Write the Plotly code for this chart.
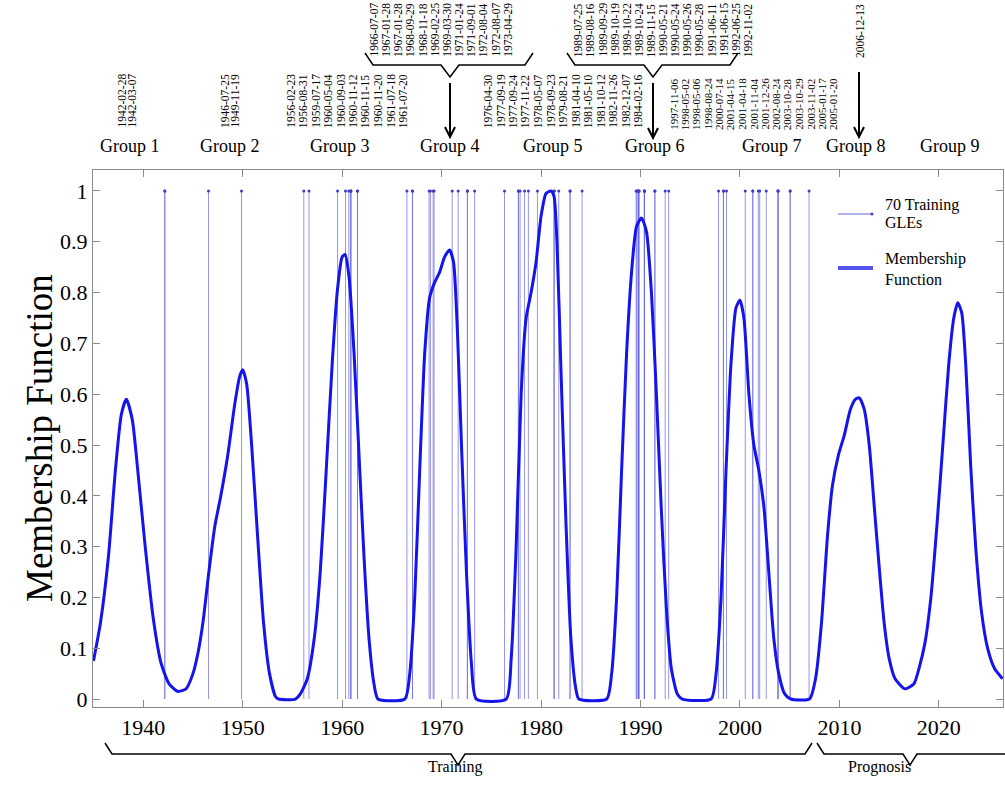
import plotly.graph_objects as go
from datetime import date

# ---------------- data ----------------
group_names = ["Group 1", "Group 2", "Group 3", "Group 4", "Group 5",
               "Group 6", "Group 7", "Group 8", "Group 9"]

gle_group1 = ["1942-02-28", "1942-03-07"]
gle_group2 = ["1946-07-25", "1949-11-19"]
gle_group3 = ["1956-02-23", "1956-08-31", "1959-07-17", "1960-05-04", "1960-09-03",
              "1960-11-12", "1960-11-15", "1960-11-20", "1961-07-18", "1961-07-20"]
gle_group4 = ["1966-07-07", "1967-01-28", "1967-01-28", "1968-09-29", "1968-11-18",
              "1969-02-25", "1969-03-30", "1971-01-24", "1971-09-01", "1972-08-04",
              "1972-08-07", "1973-04-29"]
gle_group5 = ["1976-04-30", "1977-09-19", "1977-09-24", "1977-11-22", "1978-05-07",
              "1978-09-23", "1979-08-21", "1981-04-10", "1981-05-10", "1981-10-12",
              "1982-11-26", "1982-12-07", "1984-02-16"]
gle_group6 = ["1989-07-25", "1989-08-16", "1989-09-29", "1989-10-19", "1989-10-22",
              "1989-10-24", "1989-11-15", "1990-05-21", "1990-05-24", "1990-05-26",
              "1990-05-28", "1991-06-11", "1991-06-15", "1992-06-25", "1992-11-02"]
gle_group7 = ["1997-11-06", "1998-05-02", "1998-05-06", "1998-08-24", "2000-07-14",
              "2001-04-15", "2001-04-18", "2001-11-04", "2001-12-26", "2002-08-24",
              "2003-10-28", "2003-10-29", "2003-11-02", "2005-01-17", "2005-01-20"]
gle_group8 = ["2006-12-13"]

mf_year = [1935.0, 1935.7, 1936.5, 1937.2, 1937.8, 1938.3, 1938.9, 1939.5, 1940.2, 1941.0,
           1941.8, 1942.6, 1943.5, 1944.3, 1945.0,
           1945.5, 1946.0, 1946.6, 1947.2, 1947.8, 1948.5, 1949.2, 1949.7, 1950.0, 1950.4,
           1950.9, 1951.5, 1952.1, 1952.7, 1953.3, 1953.6, 1955.3,
           1955.8, 1956.5, 1957.2, 1957.8, 1958.4, 1959.0, 1959.5, 1960.0, 1960.3, 1960.7,
           1961.2, 1961.7, 1962.2, 1962.7, 1963.2, 1963.6, 1966.3,
           1966.8, 1967.3, 1967.8, 1968.3, 1968.8, 1969.3, 1969.8, 1970.3, 1970.8, 1971.2,
           1971.6, 1972.0, 1972.5, 1973.0, 1973.5, 1976.5,
           1977.0, 1977.5, 1978.0, 1978.5, 1979.0, 1979.5, 1980.0, 1980.5, 1981.0, 1981.3,
           1981.6, 1982.0, 1982.5, 1983.0, 1983.5, 1983.8, 1986.6,
           1987.1, 1987.6, 1988.1, 1988.6, 1989.1, 1989.6, 1990.1, 1990.6, 1991.1, 1991.6,
           1992.1, 1992.6, 1993.1, 1993.7, 1994.2, 1997.1,
           1997.6, 1998.1, 1998.6, 1999.1, 1999.6, 2000.0, 2000.4, 2000.9, 2001.4, 2001.9,
           2002.4, 2002.9, 2003.4, 2003.9, 2004.5, 2005.1, 2007.0,
           2007.6, 2008.2, 2008.8, 2009.3, 2009.9, 2010.5, 2011.1, 2011.6, 2012.0, 2012.5,
           2013.0, 2013.5, 2014.0, 2014.5, 2015.0, 2015.6, 2016.6, 2017.5,
           2018.0, 2018.6, 2019.2, 2019.8, 2020.4, 2021.0, 2021.5, 2021.9, 2022.3, 2022.7,
           2023.2, 2023.7, 2024.3, 2024.9, 2025.6, 2026.4]
mf_value = [0.075, 0.15, 0.28, 0.45, 0.56, 0.59, 0.55, 0.44, 0.30, 0.16,
            0.07, 0.03, 0.015, 0.02, 0.05,
            0.09, 0.15, 0.25, 0.34, 0.40, 0.48, 0.58, 0.635, 0.648, 0.62,
            0.50, 0.32, 0.15, 0.05, 0.005, 0.0, 0.0,
            0.01, 0.04, 0.12, 0.25, 0.45, 0.66, 0.80, 0.87, 0.875, 0.83,
            0.68, 0.48, 0.28, 0.12, 0.03, 0.0, 0.0,
            0.05, 0.20, 0.45, 0.68, 0.79, 0.82, 0.84, 0.87, 0.884, 0.86,
            0.72, 0.50, 0.25, 0.07, 0.0, 0.0,
            0.08, 0.30, 0.60, 0.75, 0.80, 0.86, 0.95, 0.995, 1.0, 0.99,
            0.90, 0.65, 0.35, 0.12, 0.02, 0.0, 0.0,
            0.05, 0.20, 0.45, 0.68, 0.84, 0.93, 0.947, 0.92, 0.80, 0.60,
            0.37, 0.18, 0.06, 0.01, 0.0, 0.0,
            0.05, 0.20, 0.45, 0.66, 0.77, 0.785, 0.75, 0.60, 0.50, 0.45,
            0.38, 0.25, 0.12, 0.05, 0.01, 0.0, 0.0,
            0.04, 0.15, 0.32, 0.42, 0.48, 0.52, 0.57, 0.59, 0.593, 0.57,
            0.50, 0.38, 0.26, 0.15, 0.08, 0.04, 0.02, 0.03,
            0.06, 0.11, 0.20, 0.34, 0.50, 0.66, 0.75, 0.78, 0.76, 0.66,
            0.46, 0.30, 0.17, 0.10, 0.06, 0.04]

x_tick_vals = [1940, 1950, 1960, 1970, 1980, 1990, 2000, 2010, 2020]
x_tick_text = ["1940", "1950", "1960", "1970", "1980", "1990", "2000", "2010", "2020"]
y_tick_vals = [0, 0.1, 0.2, 0.3, 0.4, 0.5, 0.6, 0.7, 0.8, 0.9, 1]
y_tick_text = ["0", "0.1", "0.2", "0.3", "0.4", "0.5", "0.6", "0.7", "0.8", "0.9", "1"]

# ---------------- helpers ----------------
W, H = 1005, 792
L, R, T, B = 93, 1003, 170, 707
SERIF = "Liberation Serif, Times New Roman, serif"


def dec_year(s):
    d = date.fromisoformat(s)
    start = date(d.year, 1, 1)
    n = (date(d.year + 1, 1, 1) - start).days
    return d.year + ((d - start).days + 0.5) / n


def px(xp):
    return (xp - L) / (R - L)


def py(yp):
    return (B - yp) / (B - T)


all_dates = (gle_group1 + gle_group2 + gle_group3 + gle_group4 + gle_group5 +
             gle_group6 + gle_group7 + gle_group8)

fig = go.Figure()

xs, ys = [], []
for s in all_dates:
    xv = dec_year(s)
    xs += [xv, xv, None]
    ys += [0, 1, None]
fig.add_trace(go.Scatter(x=xs, y=ys, mode="lines",
                         line=dict(color="rgba(105,105,225,0.7)", width=1),
                         hoverinfo="skip", showlegend=False, name="70 Training GLEs"))
fig.add_trace(go.Scatter(x=[dec_year(s) for s in all_dates], y=[1] * len(all_dates),
                         mode="markers", marker=dict(size=3, color="rgb(60,60,200)"),
                         hoverinfo="skip", showlegend=False))
fig.add_trace(go.Scatter(x=mf_year, y=mf_value, mode="lines",
                         line=dict(color="rgb(20,20,235)", width=3, shape="spline", smoothing=0.6),
                         showlegend=False, name="Membership Function"))

annotations = []
shapes = []


def add_labels(labels, x0, step, bottom, size=11.5):
    for i, lab in enumerate(labels):
        annotations.append(dict(text=lab, x=px(x0 + i * step), y=py(bottom), xref="paper", yref="paper",
                                textangle=-90, xanchor="center", yanchor="bottom", showarrow=False,
                                font=dict(family=SERIF, size=size, color="black"), borderpad=0))


add_labels(gle_group1, 121.5, 10, 129)
add_labels(gle_group2, 225, 10, 129)
add_labels(gle_group3, 290.7, 12.5, 129)
add_labels(gle_group4, 373.5, 12.2, 58)
add_labels(gle_group5, 488.3, 12.5, 129)
add_labels(gle_group6, 578.3, 12.1, 58)
add_labels(gle_group7, 673.3, 11.4, 131, size=11)
add_labels(gle_group8, 860, 0, 59)

group_x = [130, 230, 340, 450, 553, 655, 772, 856, 950]
for name, gx in zip(group_names, group_x):
    annotations.append(dict(text=name, x=px(gx), y=py(146), xref="paper", yref="paper",
                            xanchor="center", yanchor="middle", showarrow=False,
                            font=dict(family=SERIF, size=18, color="black")))


def path(points):
    d = "M " + " L ".join(f"{px(a):.5f},{py(b):.5f}" for a, b in points)
    return d


def add_path(points, width=1.5, color="black"):
    shapes.append(dict(type="path", path=path(points), xref="paper", yref="paper",
                       line=dict(color=color, width=width)))


# top braces
add_path([(365, 53), (373, 65), (441, 65), (450, 77), (459, 65), (525, 65), (533, 53)])
add_path([(567, 53), (575, 65), (644, 65), (653, 77), (662, 65), (730, 65), (738, 53)])
# arrows
for ax_, y1, y2 in [(450, 83, 137), (653, 83, 138), (859, 72, 137)]:
    add_path([(ax_, y1), (ax_, y2)], width=2)
    add_path([(ax_ - 5, y2 - 10), (ax_, y2), (ax_ + 5, y2 - 10)], width=2)

# bottom braces
add_path([(105, 743), (112, 754), (451, 754), (458, 765), (465, 754), (805, 754), (812, 743)])
add_path([(817, 743), (824, 754), (903, 754), (910, 765), (917, 754), (1010, 754)])
annotations.append(dict(text="Training", x=px(455), y=py(778), xref="paper", yref="paper",
                        showarrow=False, font=dict(family=SERIF, size=16, color="black")))
annotations.append(dict(text="Prognosis", x=px(913), y=py(778), xref="paper", yref="paper",
                        showarrow=False, font=dict(family=SERIF, size=16, color="black")))

# legend (drawn)
add_path([(838, 214), (872, 214)], width=1, color="rgb(100,100,220)")
shapes.append(dict(type="circle", xref="paper", yref="paper", x0=px(870.5), x1=px(873.5),
                   y0=py(215.5), y1=py(212.5), fillcolor="rgb(60,60,200)",
                   line=dict(width=0)))
add_path([(838, 268), (873, 268)], width=4, color="rgb(85,85,235)")
for txt, yy in [("70 Training", 205), ("GLEs", 222), ("Membership", 259), ("Function", 279)]:
    annotations.append(dict(text=txt, x=px(883), y=py(yy), xref="paper", yref="paper",
                            xanchor="left", yanchor="middle", showarrow=False,
                            font=dict(family=SERIF, size=16, color="black")))

# y axis title
annotations.append(dict(text="Membership Function", x=px(39), y=py(438), xref="paper", yref="paper",
                        textangle=-90, xanchor="center", yanchor="middle", showarrow=False,
                        font=dict(family=SERIF, size=37, color="black")))

axis_common = dict(showgrid=False, zeroline=False, showline=True, linecolor="#8a8a8a", linewidth=1.2,
                   mirror="ticks", ticks="inside", ticklen=7, tickcolor="#8a8a8a", tickwidth=1,
                   tickfont=dict(family=SERIF, size=22, color="black"))

fig.update_layout(
    width=W, height=H,
    margin=dict(l=L, r=W - R, t=T, b=H - B),
    paper_bgcolor="white", plot_bgcolor="white",
    xaxis=dict(range=[1934.95, 2026.45], tickvals=x_tick_vals, ticktext=x_tick_text, **axis_common),
    yaxis=dict(range=[-0.0157, 1.0413], tickvals=y_tick_vals, ticktext=y_tick_text, **axis_common),
    annotations=annotations, shapes=shapes, showlegend=False,
)

fig.write_html("out.html", config={"displayModeBar": False},
               post_script="document.body.style.margin='0';document.body.style.overflow='hidden';")
